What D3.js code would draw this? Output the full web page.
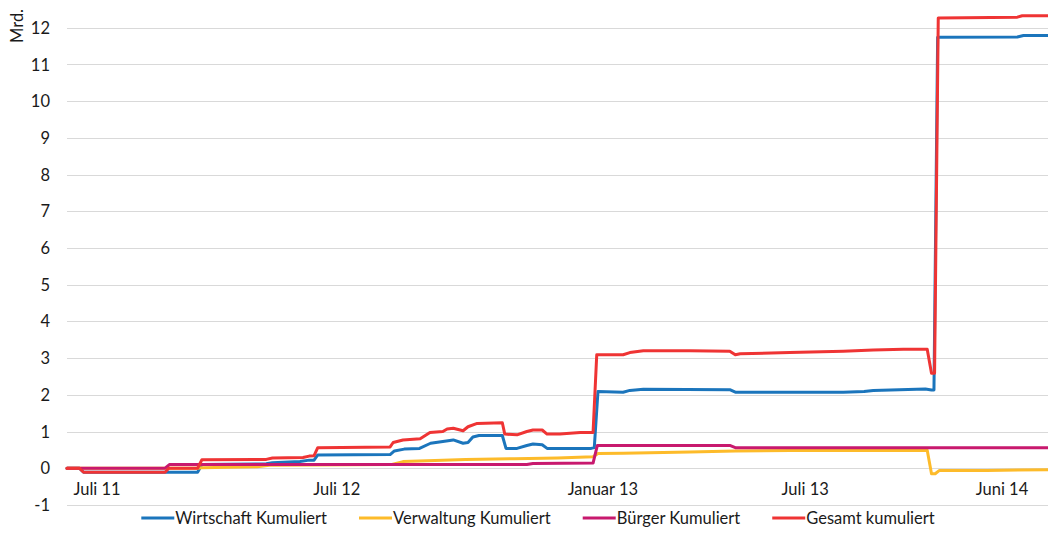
<!DOCTYPE html>
<html>
<head>
<meta charset="utf-8">
<script src="https://cdn.jsdelivr.net/npm/d3@7"></script>
<style>
  html, body { margin: 0; padding: 0; background: #fff; }
  svg text { font-family: Lato, "Open Sans", sans-serif; fill: #1a1a1a; }
</style>
</head>
<body>
<svg id="chart" width="1048" height="542"></svg>
<script>
// x = laufende Nummer des Datenpunkts (Kategorieachse), y = Mrd.
const wirtschaft = [
  [0, 0], [2, 0], [2.7, -0.11], [21.3, -0.11], [22, 0.1], [32.5, 0.12], [33.5, 0.15],
  [38, 0.18], [39.5, 0.22], [40.3, 0.22], [40.9, 0.36], [52.7, 0.37], [53.4, 0.47],
  [55, 0.52], [57.5, 0.54], [59.3, 0.68], [61.3, 0.73], [63, 0.77], [64.6, 0.68],
  [65.4, 0.7], [66.2, 0.85], [67.2, 0.89], [71, 0.89], [71.6, 0.54], [73.4, 0.54],
  [75, 0.62], [76, 0.66], [77.5, 0.64], [78.3, 0.54], [85.5, 0.54], [86, 0.56],
  [86.6, 2.09], [90.7, 2.07], [91.8, 2.12], [94, 2.15], [108.1, 2.14], [109, 2.07],
  [126.6, 2.07], [130, 2.09], [131.5, 2.12], [140, 2.16], [141, 2.13], [141.4, 2.13],
  [142, 11.74], [155, 11.75], [156, 11.79], [160, 11.79]
];
const verwaltung = [
  [0, 0], [21.3, 0], [22, 0.01], [31, 0.04], [33, 0.08], [53, 0.1], [54.8, 0.18],
  [60, 0.21], [65, 0.24], [73, 0.26], [80, 0.28], [85.8, 0.31], [86.6, 0.4],
  [90.7, 0.41], [101.6, 0.44], [109, 0.47], [118, 0.48], [140.3, 0.49],
  [141, -0.15], [141.6, -0.15], [142.3, -0.06], [150, -0.06], [160, -0.04]
];
const buerger = [
  [0, 0], [16, 0], [16.7, 0.1], [52, 0.1], [75, 0.1], [76, 0.13], [85.8, 0.14],
  [86.5, 0.62], [108.1, 0.62], [109, 0.56], [160, 0.56]
];
const gesamt = [
  [0, 0], [2, 0], [2.7, -0.11], [16, -0.11], [16.6, 0.0], [21.3, 0.0], [22, 0.23],
  [32.5, 0.24], [33.5, 0.28], [38.5, 0.29], [39.5, 0.33], [40.3, 0.34], [40.9, 0.56],
  [52.7, 0.58], [53.2, 0.7], [54.8, 0.77], [57.6, 0.8], [59.2, 0.97], [61.3, 1.0],
  [62, 1.07], [63, 1.09], [64.6, 1.02], [65.4, 1.13], [66.9, 1.22], [71, 1.24],
  [71.4, 0.93], [73.4, 0.91], [75, 1.0], [76, 1.04], [77.5, 1.04], [78.3, 0.93],
  [80.4, 0.93], [83.7, 0.97], [85.8, 0.97], [86.4, 3.09], [90.7, 3.09], [91.8, 3.15],
  [94, 3.2], [101.6, 3.2], [108.1, 3.19], [109, 3.09], [109.8, 3.12], [117.9, 3.15],
  [126.6, 3.19], [131.5, 3.22], [136.4, 3.24], [140.3, 3.24], [141, 2.59],
  [141.5, 2.59], [142.1, 12.27], [155, 12.29], [155.8, 12.33], [160, 12.33]
];

const seriesNames = ['Wirtschaft Kumuliert', 'Verwaltung Kumuliert', 'Bürger Kumuliert', 'Gesamt kumuliert'];
const seriesData = [wirtschaft, verwaltung, buerger, gesamt];
const seriesColors = ['#1b75bc', '#fdbb2a', '#c8196e', '#ef3434'];

const tickLabels = ['Juli 11', 'Juli 12', 'Januar 13', 'Juli 13', 'Juni 14'];
const tickPos = [4.9, 44, 87.4, 120.4, 152.5];
const yTicks = d3.range(-1, 13);

const svg = d3.select('#chart');
const plot = { left: 67, right: 1048, top: 27.8, bottom: 504.9 };
const FS = 16.5;

const x = d3.scaleLinear().domain([0, 160]).range([plot.left, plot.right]);
const y = d3.scaleLinear().domain([-1, 12]).range([plot.bottom, plot.top]);

// ── Gridlines ───────────────────────────────────────────────
svg.append('g')
  .selectAll('line')
  .data(yTicks)
  .join('line')
  .attr('x1', plot.left).attr('x2', plot.right)
  .attr('y1', d => Math.round(y(d)) + 0.5).attr('y2', d => Math.round(y(d)) + 0.5)
  .attr('stroke', '#d9d9d9').attr('stroke-width', 1);

// ── Y axis labels ───────────────────────────────────────────
svg.append('g')
  .selectAll('text')
  .data(yTicks)
  .join('text')
  .attr('x', 50).attr('y', d => y(d))
  .attr('text-anchor', 'end').attr('dominant-baseline', 'central')
  .attr('font-size', FS)
  .text(d => d);

svg.append('text')
  .attr('transform', 'translate(17,26) rotate(-90)')
  .attr('text-anchor', 'middle').attr('dominant-baseline', 'central')
  .attr('font-size', FS)
  .text('Mrd.');

// ── X axis labels ───────────────────────────────────────────
svg.append('g')
  .selectAll('text')
  .data(tickLabels)
  .join('text')
  .attr('x', (d, i) => x(tickPos[i])).attr('y', 489)
  .attr('text-anchor', 'middle').attr('dominant-baseline', 'central')
  .attr('font-size', FS)
  .text(d => d);

// ── Lines ───────────────────────────────────────────────────
const line = d3.line().x(d => x(d[0])).y(d => y(d[1]));
svg.append('g')
  .selectAll('path')
  .data(seriesData)
  .join('path')
  .attr('d', line)
  .attr('fill', 'none')
  .attr('stroke', (d, i) => seriesColors[i])
  .attr('stroke-width', 3)
  .attr('stroke-linejoin', 'round')
  .attr('stroke-linecap', 'round');

// ── Legend ──────────────────────────────────────────────────
const legend = svg.append('g');
const sampleW = 33, gap = 32, legY = 518;
const items = seriesNames.map((name, i) => {
  const g = legend.append('g');
  g.append('line')
    .attr('x1', 0).attr('x2', sampleW).attr('y1', legY).attr('y2', legY)
    .attr('stroke', seriesColors[i]).attr('stroke-width', 3);
  const t = g.append('text')
    .attr('x', sampleW + 1).attr('y', legY)
    .attr('dominant-baseline', 'central')
    .attr('font-size', FS)
    .text(name);
  return { g, w: sampleW + 1 + t.node().getComputedTextLength() };
});
const total = d3.sum(items, d => d.w) + gap * (items.length - 1);
let lx = 538 - total / 2;
items.forEach(it => {
  it.g.attr('transform', `translate(${lx},0)`);
  lx += it.w + gap;
});
</script>
</body>
</html>
